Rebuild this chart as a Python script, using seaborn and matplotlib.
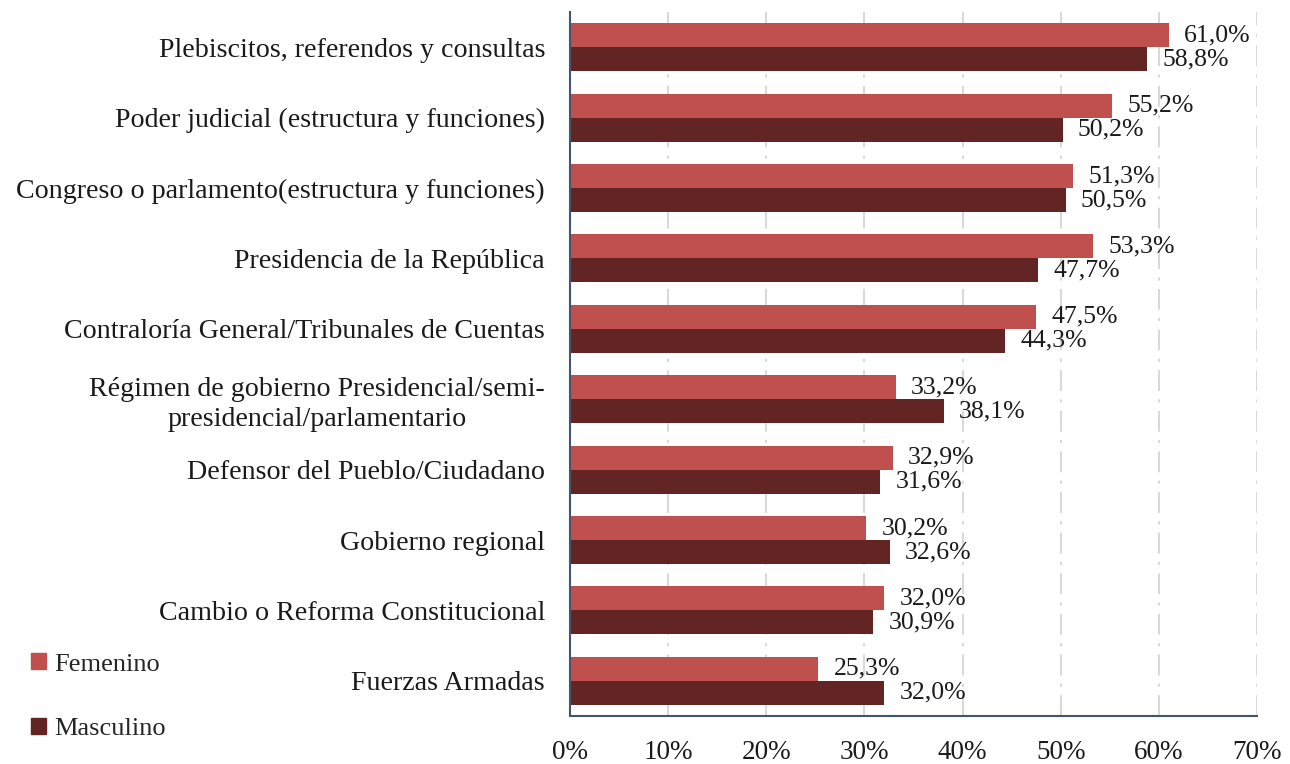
import pandas as pd
import matplotlib.pyplot as plt
import seaborn as sns
from matplotlib.patches import Patch

categorias = [
    "Plebiscitos, referendos y consultas",
    "Poder judicial (estructura y funciones)",
    "Congreso o parlamento(estructura y funciones)",
    "Presidencia de la República",
    "Contraloría General/Tribunales de Cuentas",
    "Régimen de gobierno Presidencial/semi-\npresidencial/parlamentario",
    "Defensor del Pueblo/Ciudadano",
    "Gobierno regional",
    "Cambio o Reforma Constitucional",
    "Fuerzas Armadas",
]
femenino = [61.0, 55.2, 51.3, 53.3, 47.5, 33.2, 32.9, 30.2, 32.0, 25.3]
masculino = [58.8, 50.2, 50.5, 47.7, 44.3, 38.1, 31.6, 32.6, 30.9, 32.0]
series = ["Femenino", "Masculino"]
colores = ["#C0504D", "#632523"]

df = pd.DataFrame({
    "categoria": categorias * 2,
    "sexo": ["Femenino"] * len(categorias) + ["Masculino"] * len(categorias),
    "valor": [v / 100 for v in femenino + masculino],
})

sns.set_style("white")
plt.rcParams["font.family"] = ["Liberation Serif", "DejaVu Serif"]

fig = plt.figure(figsize=(12.9, 7.64), dpi=100)
ax = fig.add_axes([0.4419, 0.0628, 0.5325, 0.9215])

sns.barplot(data=df, y="categoria", x="valor", hue="sexo", order=categorias,
            hue_order=series, palette=colores, orient="h", width=0.68,
            linewidth=0, saturation=1, legend=False, ax=ax)

# etiquetas de valor
for cont in ax.containers:
    ax.bar_label(cont, labels=[f"{b.get_width()*100:.1f}%".replace(".", ",") for b in cont],
                 padding=11, fontsize=18.5, color="#1a1a1a")

ax.set_xlim(0, 0.70)
ax.set_xticks([i / 10 for i in range(8)])
ax.set_xticklabels([f"{i*10}%" for i in range(8)])
ax.set_xlabel("")
ax.set_ylabel("")
ax.tick_params(axis="x", length=0, pad=17, labelsize=19.5, labelcolor="#1a1a1a")
ax.tick_params(axis="y", length=0, pad=18, labelsize=20.2, labelcolor="#1a1a1a")
for lbl in ax.get_yticklabels():
    lbl.set_multialignment("center")
    lbl.set_linespacing(1.25)

ax.grid(axis="x", color="#D9D9D9", linestyle=(0, (10, 4, 1.5, 4)), linewidth=1.5)
ax.set_axisbelow(True)
for s in ["top", "right"]:
    ax.spines[s].set_visible(False)
for s in ["left", "bottom"]:
    ax.spines[s].set_color("#44546A")
    ax.spines[s].set_linewidth(1.5)

handles = [Patch(color=c, label=s) for c, s in zip(colores, series)]
fig.legend(handles=handles, loc="lower left", bbox_to_anchor=(0.006, 0.0),
           frameon=False, fontsize=19, handlelength=0.55, handleheight=0.55,
           handletextpad=0.3, labelspacing=1.6)

plt.savefig("out.png", dpi=100)
